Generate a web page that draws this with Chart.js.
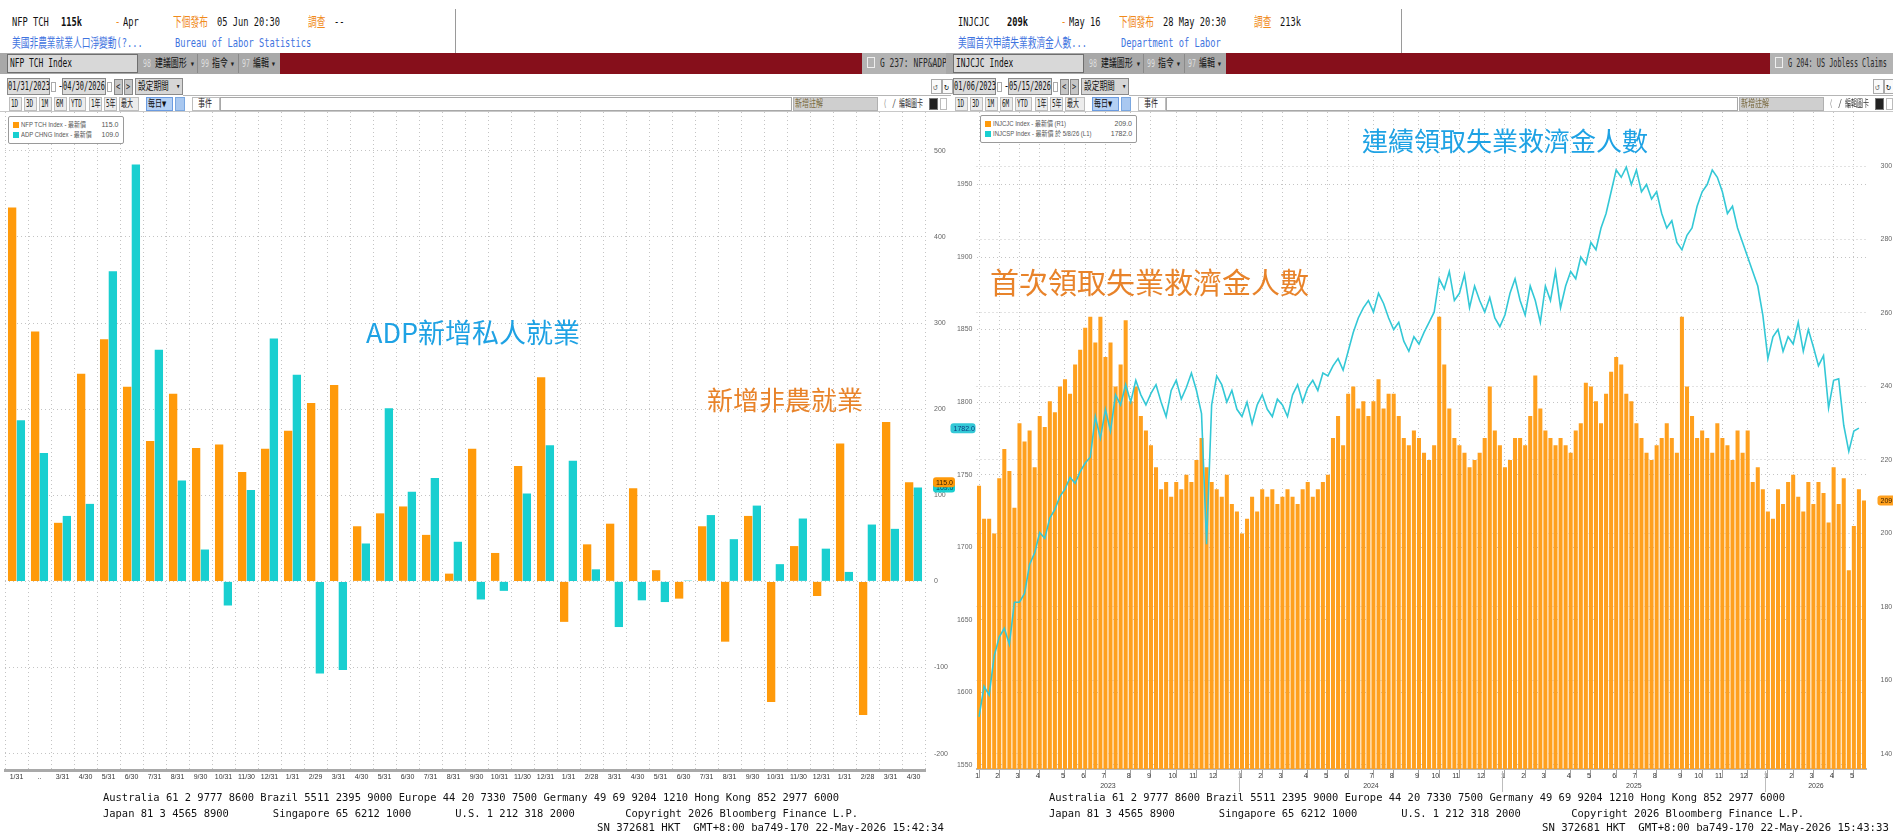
<!DOCTYPE html>
<html>
<head>
<meta charset="utf-8">
<script src="https://cdn.jsdelivr.net/npm/chart.js@4.4.0/dist/chart.umd.min.js"></script>
<style>
  body { margin: 0; width: 1893px; height: 832px; background: #fff; position: relative; overflow: hidden; }
  .a { position: absolute; box-sizing: border-box; }
  .t { position: absolute; white-space: pre; line-height: 1.2; transform-origin: 0 50%;
       font-family: 'DejaVu Sans Mono', 'Noto Sans CJK TC', monospace; }
  .note { position: absolute; white-space: nowrap; font-family: 'Noto Sans CJK TC', 'Noto Sans', sans-serif; line-height: 1; }
  canvas { position: absolute; }
</style>
</head>
<body>
<canvas id="nfp-chart" width="960" height="680" style="left:0;top:112px"></canvas>
<canvas id="claims-chart" width="948" height="680" style="left:945px;top:112px"></canvas>

<div class="note" style="left:366px;top:318px;font-size:27px;color:#1ea2e4">ADP新增私人就業</div>
<div class="note" style="left:707px;top:386px;font-size:26px;color:#e8832a">新增非農就業</div>
<div class="note" style="left:1362px;top:127px;font-size:26px;color:#1ea2e4">連續領取失業救濟金人數</div>
<div class="note" style="left:990px;top:267px;font-size:29px;color:#e8832a">首次領取失業救濟金人數</div>

<script>
// ===== Data: NFP vs ADP (monthly, thousands) =====
var nfpLabels = ['1/31', '..', '3/31', '4/30', '5/31', '6/30', '7/31', '8/31', '9/30', '10/31', '11/30', '12/31',
  '1/31', '2/29', '3/31', '4/30', '5/31', '6/30', '7/31', '8/31', '9/30', '10/31', '11/30', '12/31',
  '1/31', '2/28', '3/31', '4/30', '5/31', '6/30', '7/31', '8/31', '9/30', '10/31', '11/30', '12/31',
  '1/31', '2/28', '3/31', '4/30'];
var nfpValues = [434, 290, 68, 241, 281, 226, 163, 218, 155, 159, 127, 154,
  175, 207, 228, 64, 79, 87, 54, 9, 154, 33, 134, 237,
  -47, 43, 67, 108, 13, -20, 64, -70, 76, -140, 41, -17,
  160, -155, 185, 115];
var adpValues = [187, 149, 76, 90, 360, 484, 269, 117, 37, -28, 106, 282,
  240, -107, -103, 44, 201, 104, 120, 46, -21, -11, 102, 158,
  140, 14, -53, -22, -24, 1, 77, 49, 88, 20, 73, 38,
  11, 66, 61, 109];
var nfpTicks = [-200, -100, 0, 100, 200, 300, 400, 500];

// ===== Data: jobless claims (weekly, from week ending 01/07/2023) =====
var claimsValues = [
  213, 204, 204, 200, 215, 223, 217, 207, 230, 225, 228, 218, 232, 229, 236, 233, 240,
  242, 238, 246, 250, 256, 259, 252, 259, 248, 252, 240, 246, 258, 236, 240, 232, 228,
  224, 218, 212, 214, 210, 214, 212, 216, 214, 220, 226, 218, 214, 212, 210, 216, 208, 206,
  200, 204, 210, 206, 212, 210, 212, 208, 210, 212, 210, 208, 212, 214, 210, 212, 214,
  216, 226, 232, 224, 238, 240, 234, 236, 232, 236, 242, 234, 238, 238, 232, 226, 224, 228,
  226, 222, 220, 224, 259, 246, 234, 226, 224, 222, 218, 220, 222, 226, 240, 228, 224,
  218, 220, 226, 226, 224, 232, 243, 234, 228, 226, 224, 226, 224, 222, 228, 230, 241,
  240, 236, 230, 238, 244, 248, 246, 238, 236, 230, 226, 222, 220, 224, 226, 230, 226, 222,
  259, 240, 232, 226, 228, 226, 222, 230, 226, 224, 220, 228, 222, 228, 214, 218, 212,
  206, 204, 212, 208, 214, 216, 210, 206, 214, 208, 214, 211, 203, 218, 208, 215, 190,
  202, 212, 209];
var continuingValues = [
  1583, 1604, 1598, 1625, 1638, 1644, 1633, 1662, 1662, 1668, 1688, 1696, 1710, 1706, 1720, 1726, 1735,
  1740, 1748, 1744, 1752, 1758, 1762, 1790, 1775, 1795, 1780, 1805, 1798, 1812, 1800, 1815, 1805, 1798,
  1806, 1812, 1800, 1790, 1808, 1815, 1802, 1810, 1820, 1808, 1792, 1702, 1798, 1818, 1812, 1800, 1808, 1795,
  1790, 1800, 1785, 1798, 1805, 1795, 1790, 1802, 1798, 1790, 1805, 1812, 1800, 1810, 1815, 1808, 1820,
  1818, 1825, 1830, 1822, 1835, 1848, 1858, 1865, 1870, 1862, 1875, 1868, 1858, 1850, 1855, 1842, 1835, 1845,
  1840, 1848, 1855, 1862, 1885, 1878, 1890, 1870, 1875, 1888, 1865, 1880, 1870, 1862, 1872, 1858, 1852,
  1860, 1875, 1885, 1870, 1860, 1880, 1870, 1855, 1880, 1870, 1890, 1865, 1880, 1890, 1885, 1900, 1895,
  1910, 1905, 1920, 1930, 1945, 1960, 1955, 1962, 1950, 1960, 1945, 1950, 1940, 1945, 1930, 1920, 1925, 1910,
  1905, 1915, 1920, 1935, 1945, 1950, 1960, 1955, 1945, 1930, 1935, 1920, 1910, 1900, 1890, 1880, 1860,
  1830, 1845, 1850, 1835, 1845, 1840, 1855, 1835, 1850, 1838, 1825, 1832, 1796, 1815, 1816, 1784, 1766,
  1780, 1782];
var continuingTicks = [1550, 1600, 1650, 1700, 1750, 1800, 1850, 1900, 1950];
var claimsTicks = [140, 160, 180, 200, 220, 240, 260, 280, 300];

var claimsStart = Date.UTC(2023, 0, 7);
var weekDates = claimsValues.map(function(v, i) { return new Date(claimsStart + i * 7 * 86400000); });
var weekLabels = weekDates.map(function(d) {
  return (d.getUTCMonth() + 1) + '/' + d.getUTCDate() + '/' + String(d.getUTCFullYear()).slice(2);
});
var monthStarts = [];
var yearSpans = [];
weekDates.forEach(function(d, i) {
  if (i === 0 || d.getUTCMonth() !== weekDates[i - 1].getUTCMonth()) monthStarts.push(i);
  if (i === 0 || d.getUTCFullYear() !== weekDates[i - 1].getUTCFullYear()) {
    yearSpans.push({ label: String(d.getUTCFullYear()), start: i, end: i });
  }
  yearSpans[yearSpans.length - 1].end = i;
});

// ===== Bloomberg frame =====
function box(x, y, w, h, css) {
  var d = document.createElement('div');
  d.className = 'a';
  d.style.cssText = 'left:' + x + 'px;top:' + y + 'px;width:' + w + 'px;height:' + h + 'px;' + (css || '');
  document.body.appendChild(d);
  return d;
}
function txt(x, cy, s, size, sx, color, extra) {
  var d = document.createElement('div');
  d.className = 't';
  d.textContent = s;
  d.style.cssText = 'left:' + x + 'px;top:' + (cy - size * 0.6) + 'px;font-size:' + size + 'px;color:' + color +
    ';transform:scaleX(' + sx + ');' + (extra || '');
  document.body.appendChild(d);
  return d;
}

function buildPanel(x0, p) {
  // header
  txt(x0 + 12, 22, p.ticker, 13, 0.67, '#111');
  txt(x0 + 61, 22, p.last, 13, 0.67, '#111', 'font-weight:bold');
  txt(x0 + 115, 22, '-', 13, 0.67, '#f08a1c');
  txt(x0 + 123, 22, p.period, 13, 0.67, '#111');
  txt(x0 + 173, 22, '下個發布', 13, 0.67, '#f08a1c');
  txt(x0 + 217, 22, p.next, 13, 0.67, '#111');
  txt(x0 + 308, 22, '調查', 13, 0.67, '#f08a1c');
  txt(x0 + 334, 22, p.survey, 13, 0.67, '#111');
  txt(x0 + 12, 43, p.name, 13, 0.67, '#3f74e0');
  txt(x0 + 175, 43, p.source, 13, 0.67, '#3f74e0');
  box(x0 + 455, 9, 1, 44, 'background:#9a9a9a');

  // toolbar
  box(x0, 53, 282, 21, 'background:#a8a8a8');
  box(x0 + 7, 54, 131, 19, 'background:#d8d8d8;border:1px solid #6e6e6e');
  txt(x0 + 10, 63.5, p.ticker + ' Index', 12, 0.66, '#111');
  box(x0 + 197, 54, 1, 19, 'background:#8a8a8a');
  box(x0 + 238, 54, 1, 19, 'background:#8a8a8a');
  txt(x0 + 143, 63.5, '98', 11, 0.6, '#dedede');
  txt(x0 + 155, 63.5, '建議圖形', 11, 0.72, '#111');
  txt(x0 + 190, 63.5, '▾', 10, 0.8, '#222');
  txt(x0 + 201, 63.5, '99', 11, 0.6, '#dedede');
  txt(x0 + 212, 63.5, '指令', 11, 0.72, '#111');
  txt(x0 + 230, 63.5, '▾', 10, 0.8, '#222');
  txt(x0 + 242, 63.5, '97', 11, 0.6, '#dedede');
  txt(x0 + 253, 63.5, '編輯', 11, 0.72, '#111');
  txt(x0 + 271, 63.5, '▾', 10, 0.8, '#222');
  box(x0 + 280, 53, p.redEnd - 280, 21, 'background:#860f1b');
  box(x0 + p.redEnd, 53, p.panelW - p.redEnd, 21, 'background:#b3b3b3');
  box(x0 + p.redEnd + 5, 57, 8, 11, 'border:1px solid #eee');
  txt(x0 + p.redEnd + 18, 63.5, p.launch, 12, p.launchSx, '#2a2a2a');

  // date row
  box(x0 + 7, 78, 43, 17, 'background:#dcdcdc;border:1px solid #8a8a8a');
  txt(x0 + 8, 86.5, p.from, 12, 0.58, '#111');
  box(x0 + 51, 82, 5, 10, 'border:1px solid #aaa');
  txt(x0 + 58, 86.5, '-', 12, 0.7, '#111');
  box(x0 + 62, 78, 44, 17, 'background:#dcdcdc;border:1px solid #8a8a8a');
  txt(x0 + 63, 86.5, p.to, 12, 0.58, '#111');
  box(x0 + 107, 82, 5, 10, 'border:1px solid #aaa');
  box(x0 + 114, 79, 9, 16, 'background:#c6c6c6;border:1px solid #888');
  box(x0 + 124, 79, 9, 16, 'background:#c6c6c6;border:1px solid #888');
  txt(x0 + 116, 86.5, '<', 10, 0.7, '#222');
  txt(x0 + 126, 86.5, '>', 10, 0.7, '#222');
  box(x0 + 135, 78, 48, 17, 'background:#d6d6d6;border:1px solid #8a8a8a');
  txt(x0 + 138, 86.5, '設定期間', 11, 0.7, '#111');
  txt(x0 + 176, 86.5, '▾', 9, 0.8, '#222');
  box(x0 + 183, 95, p.panelW - 183, 1, 'background:#b5b5b5');
  box(x0 + p.panelW - 20, 79, 11, 15, 'border:1px solid #aaa;background:#fafafa');
  box(x0 + p.panelW - 9, 79, 11, 15, 'border:1px solid #aaa;background:#fafafa');
  txt(x0 + p.panelW - 18, 86.5, '↺', 10, 0.8, '#777');
  txt(x0 + p.panelW - 7, 86.5, '↻', 10, 0.8, '#222');

  // range buttons
  var btns = [[9, '1D'], [24, '3D'], [39, '1M'], [54, '6M'], [69, 'YTD'], [89, '1年'], [104, '5年'], [119, '最大']];
  btns.forEach(function(b) {
    var w = b[1].length > 2 ? 17 : (b[1] === '最大' ? 20 : 13);
    box(x0 + b[0], 97, w, 14, 'background:#ececec;border:1px solid #bdbdbd');
    txt(x0 + b[0] + 2, 104, b[1], 10, 0.6, '#222');
  });
  box(x0 + 146, 97, 27, 14, 'background:#b4d0f4;border:1px solid #6b9be0');
  txt(x0 + 148, 104, '每日▼', 10, 0.7, '#111');
  box(x0 + 175, 97, 10, 14, 'background:#a9c8f0;border:1px solid #7aa7e0');
  box(x0 + 192, 97, 28, 14, 'background:#fff;border:1px solid #bdbdbd');
  txt(x0 + 198, 104, '事件', 10, 0.7, '#222');
  box(x0 + 220, 97, 572, 14, 'background:#fff;border:1px solid #a8a8a8');
  box(x0 + 793, 97, 85, 14, 'background:#cfcfcf;border:1px solid #b0b0b0');
  txt(x0 + 795, 104, '新增註解', 10, 0.7, '#7a6a40');
  txt(x0 + 883, 104, '⟨', 10, 0.7, '#999');
  txt(x0 + 892, 104, '/', 10, 0.7, '#555');
  txt(x0 + 899, 104, '編輯圖卡', 10, 0.6, '#333');
  box(x0 + 929, 98, 9, 12, 'background:#222;border:1px solid #777');
  box(x0 + 940, 98, 7, 12, 'border:1px solid #bbb');
  box(x0, 111, p.panelW, 1, 'background:#c8c8c8');

  // footer
  txt(x0 + 103, 798, 'Australia 61 2 9777 8600 Brazil 5511 2395 9000 Europe 44 20 7330 7500 Germany 49 69 9204 1210 Hong Kong 852 2977 6000', 11, 0.95, '#111');
  txt(x0 + 103, 814, 'Japan 81 3 4565 8900       Singapore 65 6212 1000       U.S. 1 212 318 2000        Copyright 2026 Bloomberg Finance L.P.', 11, 0.95, '#111');
  txt(x0 + p.snX, 828, 'SN 372681 HKT  GMT+8:00 ba749-170 22-May-2026 ' + p.time, 11, 0.97, '#111');
}

buildPanel(0, {
  ticker: 'NFP TCH', last: '115k', period: 'Apr', next: '05 Jun 20:30', survey: '--',
  name: '美國非農業就業人口淨變動(?...', source: 'Bureau of Labor Statistics',
  redEnd: 862, panelW: 951, launch: 'G 237: NFP&ADP', launchSx: 0.66, from: '01/31/2023', to: '04/30/2026',
  snX: 597, time: '15:42:34'
});
buildPanel(946, {
  ticker: 'INJCJC', last: '209k', period: 'May 16', next: '28 May 20:30', survey: '213k',
  name: '美國首次申請失業救濟金人數...', source: 'Department of Labor',
  redEnd: 824, panelW: 947, launch: 'G 204: US Jobless Claims', launchSx: 0.57, from: '01/06/2023', to: '05/15/2026',
  snX: 596, time: '15:43:33'
});

// legends
function legend(x, y, w, rows) {
  box(x, y, w, 28, 'background:#fff;border:1px solid #9a9a9a;border-radius:2px');
  rows.forEach(function(r, i) {
    var cy = y + 9 + i * 10;
    box(x + 5, cy - 3, 6, 6, 'background:' + r[0]);
    txt(x + 13, cy, r[1], 7, 0.85, '#555', "font-family:'Liberation Sans','Noto Sans CJK TC'");
    txt(x + w - 4 - r[2].length * 3.7, cy, r[2], 7, 1, '#555', "font-family:'Liberation Sans'");
  });
}
legend(8, 116, 116, [['#ff9a0a', 'NFP TCH Index - 最新價', '115.0'], ['#19cfd0', 'ADP CHNG Index - 最新價', '109.0']]);
legend(980, 115, 157, [['#ff9a0a', 'INJCJC Index - 最新價 (R1)', '209.0'], ['#19cfd0', 'INJCSP Index - 最新價 於 5/8/26 (L1)', '1782.0']]);

// ===== Chart.js =====
Chart.defaults.font.family = "'Liberation Sans', 'DejaVu Sans', sans-serif";
Chart.defaults.animation = false;

var GRID = '#c4c4c4';

var tagPlugin = {
  id: 'valueTags',
  afterDraw: function(chart, args, opts) {
    var ctx = chart.ctx;
    (opts.items || []).forEach(function(t) {
      var scale = chart.scales[t.axis];
      var y = scale.getPixelForValue(t.value);
      var x = t.side === 'right' ? scale.left + t.dx : scale.right + t.dx;
      ctx.save();
      ctx.fillStyle = t.color;
      ctx.beginPath();
      ctx.roundRect(x, y - 5, t.w, 10, 3);
      ctx.fill();
      ctx.fillStyle = t.textColor;
      ctx.font = '7px Liberation Sans';
      ctx.textBaseline = 'middle';
      ctx.fillText(t.text, x + 3, y + 0.5);
      ctx.restore();
    });
  }
};

var yearPlugin = {
  id: 'yearRow',
  afterDraw: function(chart, args, opts) {
    if (!opts.spans) return;
    var xs = chart.scales.x;
    var ctx = chart.ctx;
    var bottom = chart.chartArea.bottom;
    var half = (xs.getPixelForValue(1) - xs.getPixelForValue(0)) / 2;
    ctx.save();
    ctx.font = '7px Liberation Sans';
    ctx.fillStyle = '#444';
    ctx.textAlign = 'center';
    ctx.textBaseline = 'middle';
    ctx.strokeStyle = '#bdbdbd';
    ctx.lineWidth = 1;
    opts.spans.forEach(function(s) {
      var a = xs.getPixelForValue(s.start) - half;
      var b = xs.getPixelForValue(s.end) + half;
      if (s.start > 0) {
        ctx.beginPath();
        ctx.moveTo(Math.round(a) + 0.5, bottom + 2);
        ctx.lineTo(Math.round(a) + 0.5, bottom + 27);
        ctx.stroke();
      }
      ctx.fillText(s.label, (a + b) / 2, bottom + 17);
    });
    ctx.restore();
  }
};

function fixedTicks(list) {
  return function(scale) { scale.ticks = list.map(function(v) { return { value: v }; }); };
}
function plainLabel(v) { return String(v); }

new Chart(document.getElementById('nfp-chart'), {
  type: 'bar',
  data: {
    labels: nfpLabels,
    datasets: [
      { label: 'NFP TCH Index', data: nfpValues, backgroundColor: '#ff9a0a', categoryPercentage: 0.76, barPercentage: 0.95 },
      { label: 'ADP CHNG Index', data: adpValues, backgroundColor: '#19cfd0', categoryPercentage: 0.76, barPercentage: 0.95 }
    ]
  },
  options: {
    responsive: false,
    layout: { padding: { left: 5, top: 0, right: 0, bottom: 0 } },
    plugins: {
      legend: { display: false },
      tooltip: { enabled: false },
      valueTags: { items: [
        { axis: 'y', side: 'right', dx: 8, w: 22, value: 109, text: '109.0', color: '#19cfd0', textColor: '#0a3b60' },
        { axis: 'y', side: 'right', dx: 8, w: 22, value: 115, text: '115.0', color: '#ff9a0a', textColor: '#3a2000' }
      ] }
    },
    scales: {
      x: {
        grid: { color: GRID, drawTicks: false },
        border: { display: true, color: '#a9a9a9', width: 3, dash: [1, 3] },
        ticks: { autoSkip: false, maxRotation: 0, minRotation: 0, font: { size: 7 }, color: '#333', padding: 3 },
        afterFit: function(s) { s.height = 22; s.paddingLeft = 0; s.paddingRight = 0; }
      },
      y: {
        position: 'right',
        min: -219, max: 545,
        afterBuildTicks: fixedTicks(nfpTicks),
        grid: { color: GRID, drawTicks: false },
        border: { display: false, dash: [1, 3] },
        ticks: { font: { size: 7 }, color: '#666', padding: 9, callback: plainLabel },
        afterFit: function(s) { s.width = 35; s.paddingTop = 0; s.paddingBottom = 0; }
      }
    }
  },
  plugins: [tagPlugin]
});

new Chart(document.getElementById('claims-chart'), {
  type: 'bar',
  data: {
    labels: weekLabels,
    datasets: [
      { type: 'line', label: 'INJCSP Index', data: continuingValues, yAxisID: 'y', borderColor: '#33c8d6',
        borderWidth: 1.6, pointRadius: 0, tension: 0, order: 0 },
      { label: 'INJCJC Index', data: claimsValues, yAxisID: 'y1', backgroundColor: '#ffa01e',
        categoryPercentage: 1, barPercentage: 0.8, order: 1 }
    ]
  },
  options: {
    responsive: false,
    layout: { padding: 0 },
    plugins: {
      legend: { display: false },
      tooltip: { enabled: false },
      valueTags: { items: [
        { axis: 'y', side: 'left', dx: -26, w: 25, value: 1782, text: '1782.0', color: '#33c8d6', textColor: '#0a3b80' },
        { axis: 'y1', side: 'right', dx: 11, w: 18, value: 209, text: '209', color: '#ffa01e', textColor: '#3a2000' }
      ] },
      yearRow: { spans: yearSpans }
    },
    scales: {
      x: {
        grid: { offset: false, color: GRID, drawTicks: true, tickLength: 9, tickColor: '#a0a0a0' },
        border: { display: true, color: '#b8b8b8', width: 2, dash: [1, 3] },
        afterBuildTicks: function(s) { s.ticks = monthStarts.map(function(i) { return { value: i }; }); },
        ticks: {
          autoSkip: false, maxRotation: 0, minRotation: 0, align: 'end', padding: -6,
          font: { size: 7 }, color: '#333',
          callback: function(v) { return String(weekDates[v].getUTCMonth() + 1); }
        },
        afterFit: function(s) { s.height = 23; s.paddingLeft = 0; s.paddingRight = 0; }
      },
      y: {
        position: 'left',
        min: 1547, max: 2000,
        afterBuildTicks: fixedTicks(continuingTicks),
        grid: { color: GRID, drawTicks: false },
        border: { display: false, dash: [1, 3] },
        ticks: { font: { size: 7 }, color: '#666', padding: 4, callback: plainLabel },
        afterFit: function(s) { s.width = 31.5; s.paddingTop = 0; s.paddingBottom = 0; }
      },
      y1: {
        position: 'right',
        min: 135.9, max: 314.7,
        afterBuildTicks: fixedTicks(claimsTicks),
        grid: { color: GRID, drawTicks: false },
        border: { display: false, dash: [1, 3] },
        ticks: { font: { size: 7 }, color: '#666', padding: 14, callback: plainLabel },
        afterFit: function(s) { s.width = 26.5; s.paddingTop = 0; s.paddingBottom = 0; }
      }
    }
  },
  plugins: [tagPlugin, yearPlugin]
});
</script>
</body>
</html>
